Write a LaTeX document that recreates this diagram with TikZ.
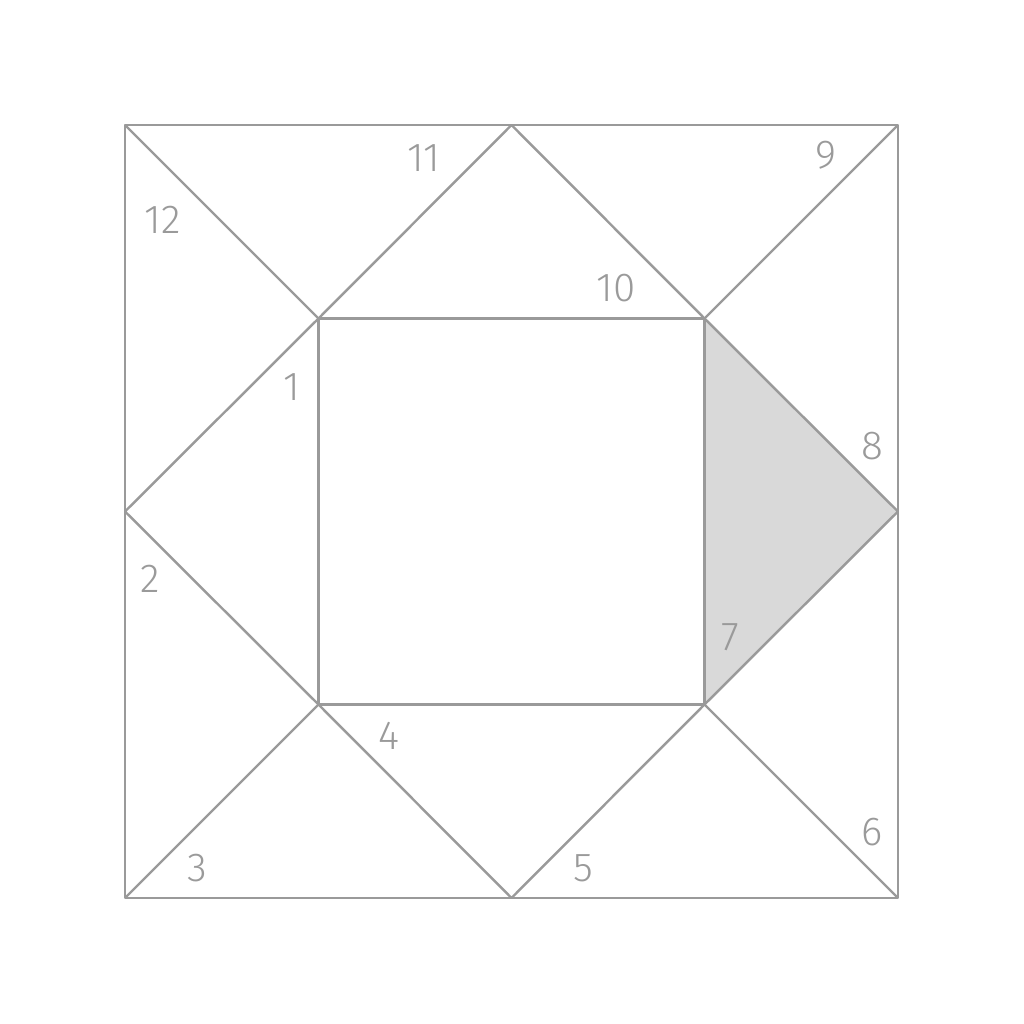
\documentclass[tikz,border=0pt]{standalone}
\usepackage{fontspec}
\setmainfont{Fira Sans Light}
\definecolor{edgegray}{HTML}{9A9A9A}
\definecolor{piecegray}{HTML}{D9D9D9}
\tikzstyle{piece}=[draw=edgegray, line width=0.7pt, line join=round]
\tikzstyle{num}=[text=edgegray, font=\fontsize{11.5}{12}\selectfont, inner sep=0pt]

\begin{document}
\begin{tikzpicture}
    \useasboundingbox (0,0) rectangle (10.24,10.24);
    % outer corners, edge midpoints, inner corners
    \coordinate (otl) at (1.25,8.99);
    \coordinate (otr) at (8.98,8.99);
    \coordinate (obr) at (8.98,1.26);
    \coordinate (obl) at (1.25,1.26);
    \coordinate (mt) at (5.115,8.99);
    \coordinate (mr) at (8.98,5.125);
    \coordinate (mb) at (5.115,1.26);
    \coordinate (ml) at (1.25,5.125);
    \coordinate (itl) at (3.185,7.055);
    \coordinate (itr) at (7.045,7.055);
    \coordinate (ibr) at (7.045,3.195);
    \coordinate (ibl) at (3.185,3.195);
    \fill[piecegray] (itr) -- (mr) -- (ibr) -- cycle;
    \draw[piece] (otl) rectangle (obr);
    \draw[piece] (itl) rectangle (ibr);
    \draw[piece] (otl) -- (itl) (otr) -- (itr) (obr) -- (ibr) (obl) -- (ibl);
    \draw[piece] (itl) -- (mt) -- (itr) -- (mr) -- (ibr) -- (mb) -- (ibl) -- (ml) -- cycle;
    % piece numbers
    \node[num] (n1) at (2.92,6.37) {1};
    \node[num] (n2) at (1.50,4.45) {2};
    \node[num] (n3) at (1.97,1.56) {3};
    \node[num] (n4) at (3.89,2.88) {4};
    \node[num] (n5) at (5.83,1.56) {5};
    \node[num] (n6) at (8.72,1.92) {6};
    \node[num] (n7) at (7.30,3.87) {7};
    \node[num] (n8) at (8.72,5.78) {8};
    \node[num] (n9) at (8.26,8.69) {9};
    \node[num] (n10) at (6.16,7.36) {10};
    \node[num] (n11) at (4.24,8.66) {11};
    \node[num] (n12) at (1.63,8.04) {12};
\end{tikzpicture}
\end{document}
